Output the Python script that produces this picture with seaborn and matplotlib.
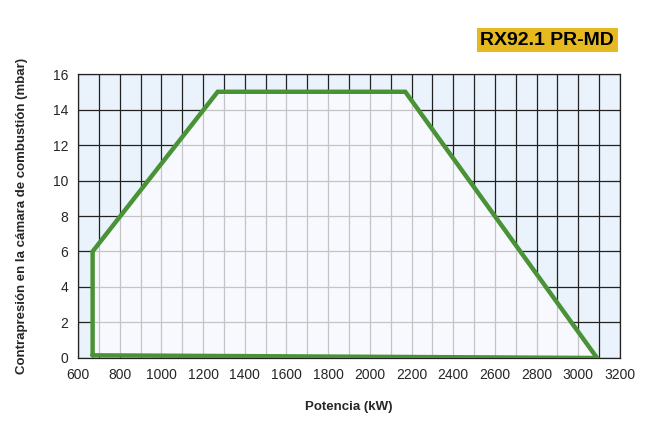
import numpy as np
import matplotlib
matplotlib.use("Agg")
import matplotlib.pyplot as plt
from matplotlib.patches import Polygon
import seaborn as sns

# Campo de trabajo del quemador (potencia kW, contrapresión mbar)
potencia = [670, 670, 1270, 2170, 3090, 670]
contrapresion = [0.15, 6, 15, 15, 0, 0.15]

x_ticks = list(range(600, 3201, 200))
y_ticks = list(range(0, 17, 2))
x_grid = list(range(600, 3201, 100))

modelo = "RX92.1 PR-MD"
titulo_x = "Potencia (kW)"
titulo_y = "Contrapresión en la cámara de combustión (mbar)"

sns.set_style("white")
plt.rcParams['font.family'] = ['Liberation Sans', 'DejaVu Sans']

fig = plt.figure(figsize=(6.59, 4.23), dpi=100)
ax = fig.add_axes([0.1184, 0.1537, 0.8224, 0.6713])
ax.set_facecolor("#eaf3fb")

ax.set_xlim(600, 3200)
ax.set_ylim(0, 16)
ax.set_xticks(x_ticks)
ax.set_yticks(y_ticks)
ax.set_xticks(x_grid, minor=True)

# rejilla oscura (fuera del campo)
ax.set_axisbelow(True)
ax.grid(which="both", axis="x", color="#222222", lw=0.9)
ax.grid(which="major", axis="y", color="#222222", lw=0.9)

# relleno del campo de trabajo
poly = Polygon(np.column_stack([potencia, contrapresion]), closed=True,
               facecolor="#f8f9fe", edgecolor="none", zorder=1)
ax.add_patch(poly)

# rejilla clara dentro del campo
vl = ax.vlines(x_grid, 0, 16, colors="#c4c4c4", lw=0.9, zorder=1.5)
hl = ax.hlines(y_ticks, 600, 3200, colors="#c4c4c4", lw=0.9, zorder=1.5)
vl.set_clip_path(poly)
hl.set_clip_path(poly)

sns.lineplot(x=potencia, y=contrapresion, sort=False, estimator=None,
             color="#4a9236", lw=3.2, ax=ax, zorder=3, solid_joinstyle="miter")

for s in ax.spines.values():
    s.set_color("#222222")
    s.set_linewidth(0.9)

ax.tick_params(axis="both", which="major", direction="out", length=4,
               width=0.9, color="#222222", labelsize=10, pad=3)
ax.tick_params(axis="x", which="minor", length=0)

ax.set_xlabel(titulo_x, fontsize=9.5, fontweight="bold", labelpad=14)
ax.set_ylabel(titulo_y, fontsize=9.5, fontweight="bold", labelpad=18)

fig.text(0.932, 0.905, modelo, ha="right", va="center", fontsize=14,
         fontweight="bold", color="black",
         bbox=dict(boxstyle="square,pad=0.18", facecolor="#e6b91e", edgecolor="none"))

fig.savefig("out.png", dpi=100)
